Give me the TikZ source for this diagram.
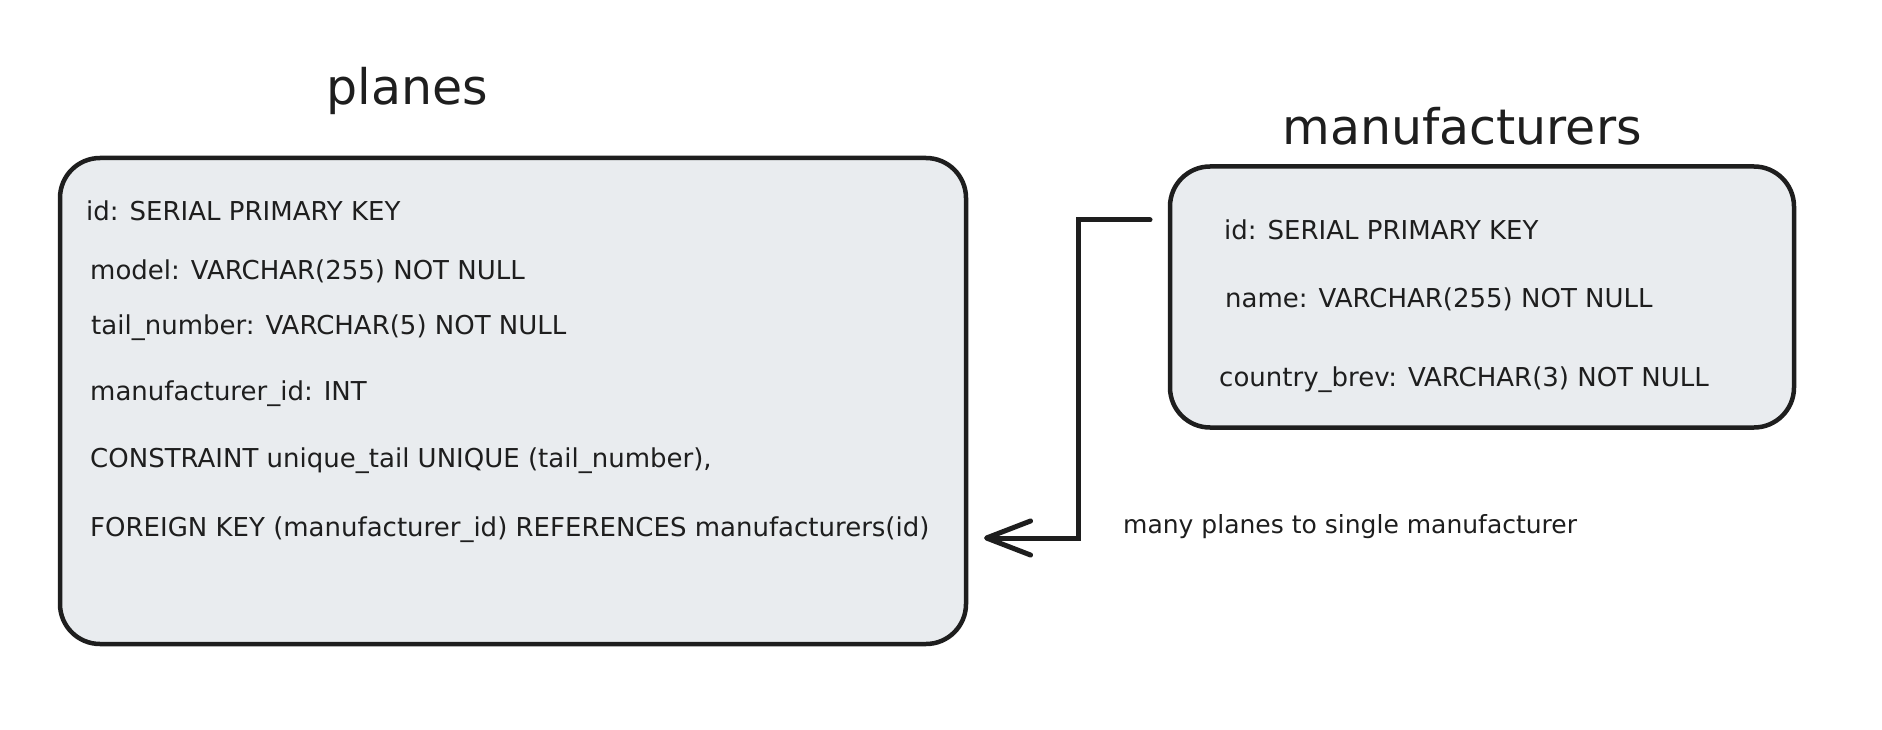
\documentclass[tikz,border=0pt]{standalone}
\usepackage{fontspec}
\setmainfont{DejaVu Sans}
\usetikzlibrary{arrows.meta}
\definecolor{ink}{HTML}{1E1E1E}
\definecolor{tablefill}{HTML}{E9ECEF}
\begin{document}
\begin{tikzpicture}[x=1pt,y=-1pt,
    table/.style={draw=ink,fill=tablefill,line width=4.5pt,rounded corners=40pt,inner sep=0pt},
    title/.style={anchor=base,text=ink,font=\fontsize{49}{56}\selectfont},
    row/.style={anchor=base west,text=ink,inner sep=0pt,font=\fontsize{26}{32}\selectfont},
    note/.style={anchor=base west,text=ink,inner sep=0pt,font=\fontsize{25}{28}\selectfont},
    link/.style={draw=ink,line width=5pt,line cap=round,line join=miter,
      -{Straight Barb[length=44pt,width=34pt,line width=5pt,round]}}]
  \fill[white] (0,0) rectangle (1882,730);
  \useasboundingbox (0,0) rectangle (1882,730);
  % planes table
  \node[title] (planestitle) at (407,105) {planes};
  \node[table,minimum width=906pt,minimum height=486pt] (planes) at (513,401) {};
  \node[row] (p1) at (86,221) {id: SERIAL PRIMARY KEY};
  \node[row] (p2) at (90,279) {model: VARCHAR(255) NOT NULL};
  \node[row] (p3) at (91,334) {tail\_number: VARCHAR(5) NOT NULL};
  \node[row] (p4) at (90,400) {manufacturer\_id: INT};
  \node[row] (p5) at (90,467) {CONSTRAINT unique\_tail UNIQUE (tail\_number),};
  \node[row] (p6) at (90,536) {FOREIGN KEY (manufacturer\_id) REFERENCES manufacturers(id)};
  % manufacturers table
  \node[title] (manutitle) at (1462,145) {manufacturers};
  \node[table,minimum width=624pt,minimum height=261pt] (manufacturers) at (1482,297) {};
  \node[row] (m1) at (1224,240) {id: SERIAL PRIMARY KEY};
  \node[row] (m2) at (1225,307) {name: VARCHAR(255) NOT NULL};
  \node[row] (m3) at (1219,386) {country\_brev: VARCHAR(3) NOT NULL};
  % relation
  \coordinate (fkfrom) at (1150,220);
  \coordinate (fkto) at (984,538);
  \draw[link] (fkfrom) -- ++(-72,0) |- (fkto);
  \node[note] (fknote) at (1123,533) {many planes to single manufacturer};
\end{tikzpicture}
\end{document}
